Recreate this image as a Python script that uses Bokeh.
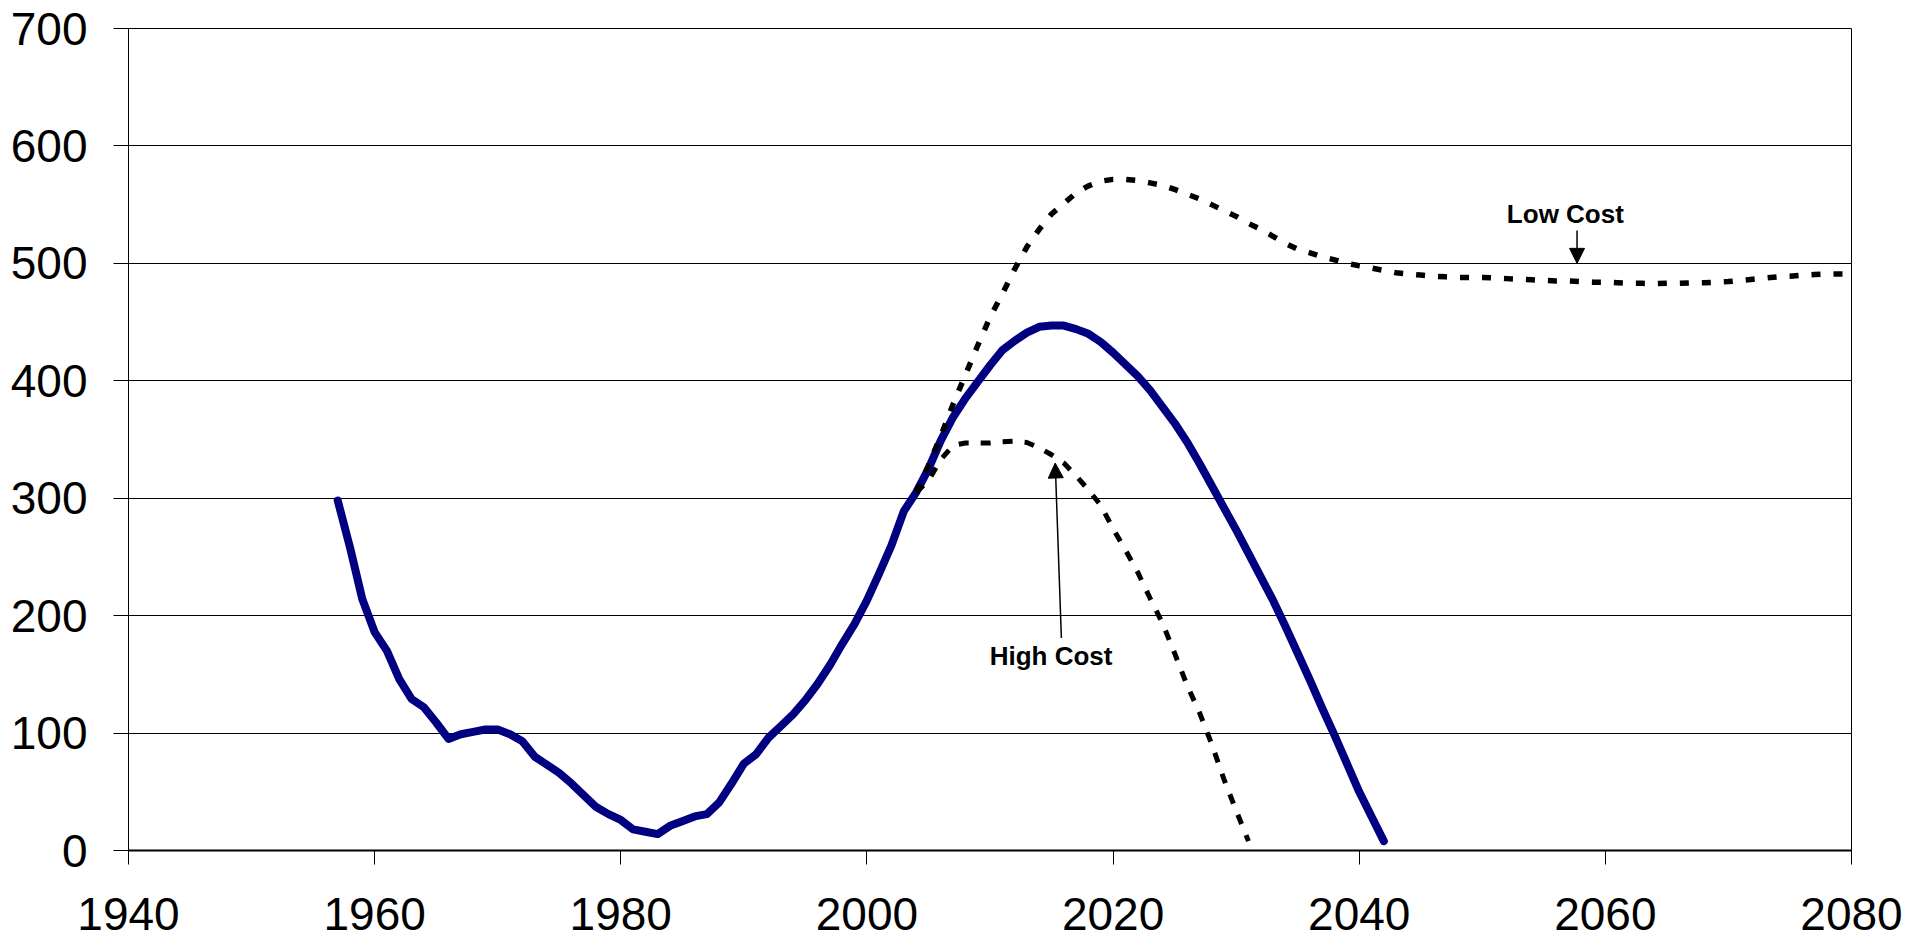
from bokeh.plotting import figure
from bokeh.models import ColumnDataSource, Arrow, NormalHead, FixedTicker, Label
from bokeh.embed import file_html
from bokeh.resources import INLINE

# ---------------- data ----------------
hist_years = list(range(1957, 2043))
hist_values = [298, 258, 214, 186, 170, 146, 129, 122, 109, 95,
               99, 101, 103, 103, 99, 93, 80, 73, 66, 57,
               47, 37, 31, 26, 18, 16, 14, 21, 25, 29,
               31, 41, 57, 74, 82, 96, 106, 116, 128, 142,
               158, 176, 193, 213, 236, 260, 289, 305, 325, 349,
               369, 385, 399, 413, 426, 434, 441, 446, 447, 447,
               444, 440, 433, 424, 414, 404, 392, 378, 364, 348,
               330, 311, 292, 273, 253, 233, 213, 191, 168, 145,
               121, 98, 74, 50, 29, 8]

low_years = list(range(2004, 2081))
low_values = [305, 328, 353, 380, 405, 430, 454, 474, 495, 514,
              529, 542, 551, 560, 566, 570, 571.5, 571.5, 570.5, 568.5,
              566.5, 563, 559, 555, 550, 545, 540, 534, 529, 523,
              517, 512, 509, 505.5, 503, 500, 498, 496, 494, 492,
              491, 490, 489, 488.5, 488, 488, 488, 487.5, 487, 486.5,
              486, 485.5, 485, 485, 484.5, 484, 484, 483.5, 483, 483,
              482.7, 483, 483, 483.3, 483.5, 484, 484.5, 485.5, 486.5, 487.5,
              488.5, 489, 490, 490.5, 491, 491, 491]

high_years = list(range(2004, 2032))
high_values = [305, 315, 333, 345, 347, 347, 347, 348, 348.5, 347.5,
               343, 337, 330, 319, 307, 294, 274, 256, 237, 215,
               194, 168, 141, 118, 91, 61, 34, 8]

x_ticks = [1940, 1960, 1980, 2000, 2020, 2040, 2060, 2080]
y_ticks = [0, 100, 200, 300, 400, 500, 600, 700]

# annotation anchors (year, value)
low_label = ("Low Cost", 2056.75, 542)
low_arrow = (2057.7, 528, 2057.7, 500)
high_label = ("High Cost", 2014.96, 166)
high_arrow = (2015.8, 181, 2015.3, 330)

FONT = "Liberation Sans"

p = figure(width=1920, height=943, x_range=(1940, 2080), y_range=(0, 700),
           output_backend="svg", toolbar_location=None,
           min_border_left=128, min_border_right=69, min_border_top=28,
           min_border_bottom=93,
           background_fill_color="white", border_fill_color="white",
           outline_line_color="black", outline_line_width=1)

p.xgrid.visible = False
p.ygrid.ticker = FixedTicker(ticks=y_ticks)
p.ygrid.grid_line_color = "black"
p.ygrid.grid_line_width = 1

for ax, ticks, out, standoff in ((p.xaxis, x_ticks, 14, 33), (p.yaxis, y_ticks, 15, 26)):
    ax.ticker = FixedTicker(ticks=ticks)
    ax.major_tick_in = 0
    ax.major_tick_out = out
    ax.minor_tick_in = 0
    ax.minor_tick_out = 0
    ax.major_label_standoff = standoff
    ax.major_label_text_font = FONT
    ax.major_label_text_font_size = "46px"
    ax.major_label_text_color = "black"
    ax.axis_line_color = "black"
    ax.major_tick_line_color = "black"

p.xaxis.axis_line_width = 2
p.yaxis.axis_line_width = 1

src_h = ColumnDataSource(dict(x=hist_years, y=hist_values))
src_l = ColumnDataSource(dict(x=low_years, y=low_values))
src_c = ColumnDataSource(dict(x=high_years, y=high_values))

p.line("x", "y", source=src_h, line_color="#000080", line_width=8,
       line_join="round", line_cap="round")
p.line("x", "y", source=src_l, line_color="black", line_width=5.5,
       line_dash="9 13")
p.line("x", "y", source=src_c, line_color="black", line_width=5,
       line_dash="10 12")

for (txt, tx, ty) in (low_label, high_label):
    p.add_layout(Label(x=tx, y=ty, text=txt, text_font=FONT,
                       text_font_size="26px", text_font_style="bold",
                       text_align="center", text_baseline="alphabetic",
                       text_color="black"))

for (x0, y0, x1, y1) in (low_arrow, high_arrow):
    p.add_layout(Arrow(x_start=x0, y_start=y0, x_end=x1, y_end=y1,
                       line_color="black", line_width=1.5,
                       end=NormalHead(size=15, fill_color="black",
                                      line_color="black", line_width=1)))

open("out.html", "w").write(file_html(p, INLINE))
